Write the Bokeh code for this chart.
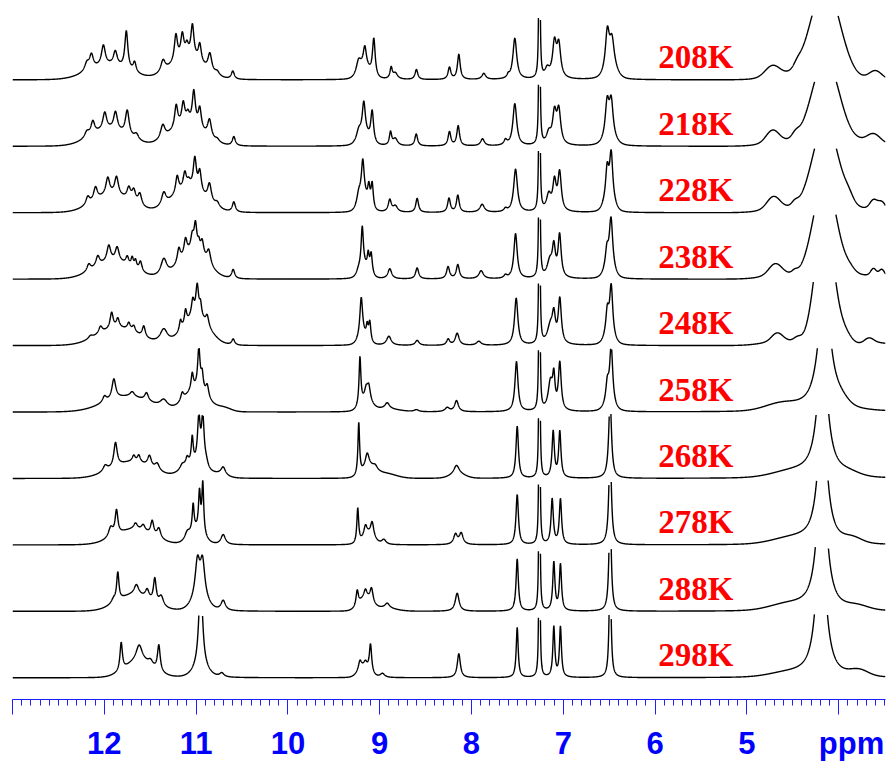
import numpy as np
from bokeh.plotting import figure
from bokeh.models import Range1d, FixedTicker, ColumnDataSource
from bokeh.embed import file_html
from bokeh.resources import INLINE
from bokeh.core.properties import value

# ---------------- data ----------------
TEMPERATURES = ["208K", "218K", "228K", "238K", "248K",
                "258K", "268K", "278K", "288K", "298K"]

# peak tables: (shape, position ppm, height px, width ppm)  L = Lorentzian (HWHM), G = Gaussian (sigma)
PEAKS_208K = [
    ("G", 11.95, 14, 0.22), ("L", 12.19, 8, 0.03), ("L", 12.14, 14, 0.025), ("L", 12.01, 20, 0.025),
    ("L", 11.88, 14, 0.025), ("L", 11.76, 38, 0.02), ("L", 11.67, 10, 0.02),
    ("G", 11.10, 22, 0.17), ("L", 11.36, 12, 0.03), ("L", 11.22, 26, 0.02), ("L", 11.15, 22, 0.02),
    ("L", 11.10, 10, 0.02), ("L", 11.04, 32, 0.02), ("L", 10.96, 18, 0.02), ("L", 10.85, 18, 0.025),
    ("L", 10.77, 4, 0.03), ("L", 10.60, 8, 0.02),
    ("G", 9.17, 12, 0.06), ("L", 9.23, 12, 0.03), ("L", 9.162, 19, 0.02), ("L", 9.064, 38, 0.018),
    ("L", 8.875, 11, 0.015), ("L", 8.83, 6, 0.03), ("L", 8.60, 10, 0.018), ("L", 8.24, 12, 0.018),
    ("L", 8.138, 25, 0.018), ("L", 7.866, 6, 0.025), ("L", 7.60, 3, 0.015), ("L", 7.528, 41, 0.025),
    ("L", 7.26, 500, 0.004), ("L", 7.175, 9, 0.03), ("L", 7.096, 34, 0.025), ("L", 7.049, 32, 0.025),
    ("L", 6.52, 38, 0.025), ("L", 6.47, 28, 0.03), ("G", 6.48, 10, 0.06),
    ("G", 4.147, 94, 0.16), ("G", 4.60, 4, 0.2), ("G", 4.72, 11, 0.08), ("G", 4.45, 4, 0.04),
    ("G", 3.60, 9, 0.07),
]
PEAKS_218K = [
    ("G", 11.95, 16, 0.2), ("L", 12.19, 6, 0.03), ("L", 12.125, 13, 0.025), ("L", 11.995, 17, 0.025),
    ("L", 11.878, 18, 0.025), ("L", 11.75, 25, 0.025), ("L", 11.65, 6, 0.03),
    ("G", 11.10, 22, 0.17), ("L", 11.363, 14, 0.03), ("L", 11.217, 22, 0.02), ("L", 11.14, 20, 0.02),
    ("L", 11.09, 8, 0.02), ("L", 11.025, 33, 0.02), ("L", 10.96, 20, 0.02), ("L", 10.854, 18, 0.025),
    ("L", 10.77, 3, 0.03), ("L", 10.589, 9, 0.02),
    ("G", 9.17, 10, 0.06), ("L", 9.228, 9, 0.03), ("L", 9.173, 32, 0.02), ("L", 9.082, 31, 0.018),
    ("L", 8.882, 13, 0.015), ("L", 8.83, 7, 0.03), ("L", 8.602, 12, 0.018), ("L", 8.24, 14, 0.018),
    ("L", 8.145, 20, 0.018), ("L", 7.88, 7, 0.025), ("L", 7.63, 5, 0.02), ("L", 7.528, 42, 0.025),
    ("L", 7.26, 500, 0.004), ("L", 7.158, 11, 0.03), ("L", 7.096, 30, 0.025), ("L", 7.049, 33, 0.025),
    ("L", 6.522, 36, 0.025), ("L", 6.478, 36, 0.025), ("G", 6.49, 6, 0.06),
    ("G", 4.144, 87, 0.148), ("G", 4.60, 5, 0.2), ("G", 4.72, 12, 0.07), ("G", 4.47, 5, 0.04),
    ("G", 3.70, 5, 0.2), ("G", 3.62, 8, 0.07),
]
PEAKS_228K = [
    ("G", 11.92, 17, 0.2), ("L", 12.18, 8, 0.025), ("L", 12.096, 13, 0.025), ("L", 11.962, 17, 0.025),
    ("L", 11.867, 18, 0.025), ("L", 11.733, 12, 0.025), ("L", 11.679, 12, 0.025), ("L", 11.613, 12, 0.025),
    ("G", 11.08, 24, 0.17), ("L", 11.352, 13, 0.03), ("L", 11.206, 17, 0.02), ("L", 11.123, 15, 0.02),
    ("L", 11.08, 5, 0.02), ("L", 11.014, 30, 0.02), ("L", 10.96, 20, 0.02), ("L", 10.854, 18, 0.025),
    ("L", 10.77, 5, 0.03), ("L", 10.589, 10, 0.02),
    ("G", 9.18, 14, 0.05), ("L", 9.228, 10, 0.025), ("L", 9.184, 36, 0.018), ("L", 9.118, 18, 0.015),
    ("L", 9.082, 25, 0.015), ("L", 8.89, 12, 0.02), ("L", 8.83, 6, 0.03), ("L", 8.592, 14, 0.018),
    ("L", 8.245, 14, 0.018), ("L", 8.149, 17, 0.018), ("L", 7.884, 8, 0.03), ("L", 7.63, 3, 0.02),
    ("L", 7.52, 43, 0.025), ("L", 7.26, 500, 0.004), ("L", 7.158, 16, 0.03), ("L", 7.096, 28, 0.022),
    ("L", 7.04, 38, 0.022), ("L", 6.522, 30, 0.02), ("L", 6.478, 45, 0.02), ("G", 6.50, 14, 0.05),
    ("G", 4.144, 90, 0.14), ("G", 4.60, 5, 0.2), ("G", 4.71, 12, 0.07), ("G", 4.478, 4, 0.035),
    ("G", 3.89, 6, 0.05), ("G", 3.70, 4, 0.2), ("G", 3.62, 9, 0.04), ("G", 3.53, 8, 0.04),
]
PEAKS_238K = [
    ("G", 11.90, 17, 0.21), ("L", 12.169, 7, 0.025), ("L", 12.071, 10, 0.025), ("L", 11.951, 16, 0.025),
    ("L", 11.86, 14, 0.025), ("L", 11.75, 8, 0.02), ("L", 11.696, 9, 0.015), ("L", 11.66, 8, 0.015),
    ("L", 11.606, 10, 0.02),
    ("G", 11.03, 26, 0.15), ("L", 11.352, 17, 0.04), ("L", 11.188, 14, 0.02), ("L", 11.115, 16, 0.02),
    ("L", 11.042, 14, 0.02), ("L", 11.007, 26, 0.018), ("L", 10.97, 8, 0.015), ("L", 10.934, 14, 0.02),
    ("L", 10.862, 14, 0.025), ("L", 10.596, 9, 0.02),
    ("G", 9.16, 10, 0.05), ("L", 9.23, 5, 0.03), ("L", 9.19, 42, 0.015), ("L", 9.125, 15, 0.012),
    ("L", 9.093, 20, 0.015), ("L", 8.89, 10, 0.025), ("L", 8.592, 11, 0.02), ("L", 8.255, 12, 0.02),
    ("L", 8.149, 14, 0.02), ("L", 7.895, 8, 0.03), ("L", 7.63, 3, 0.02), ("L", 7.52, 45, 0.022),
    ("L", 7.26, 500, 0.004), ("L", 7.147, 16, 0.035), ("L", 7.103, 28, 0.02), ("L", 7.04, 42, 0.02),
    ("L", 6.48, 50, 0.022), ("L", 6.525, 18, 0.02), ("G", 6.50, 10, 0.05),
    ("G", 4.15, 100, 0.125), ("G", 4.60, 5, 0.2), ("G", 4.69, 11, 0.07), ("G", 4.48, 3, 0.03),
    ("G", 3.88, 5, 0.06), ("G", 3.70, 4, 0.2), ("G", 3.62, 7, 0.03), ("G", 3.53, 7, 0.03),
]
PEAKS_248K = [
    ("G", 11.85, 17, 0.22), ("L", 12.15, 3, 0.03), ("L", 12.041, 7, 0.025), ("L", 11.92, 16, 0.02),
    ("L", 11.853, 9, 0.02), ("L", 11.733, 7, 0.02), ("L", 11.679, 6, 0.02), ("L", 11.57, 11, 0.02),
    ("G", 11.00, 28, 0.14), ("L", 11.352, 14, 0.05), ("L", 11.17, 10, 0.015), ("L", 11.115, 14, 0.015),
    ("L", 11.036, 16, 0.018), ("L", 10.988, 30, 0.018), ("L", 10.952, 12, 0.015), ("L", 10.879, 10, 0.02),
    ("L", 10.596, 6, 0.02),
    ("G", 9.18, 8, 0.05), ("L", 9.201, 40, 0.018), ("L", 9.136, 12, 0.012), ("L", 9.108, 19, 0.014),
    ("L", 8.90, 9, 0.03), ("L", 8.592, 5, 0.025), ("L", 8.254, 6, 0.02), ("L", 8.156, 12, 0.025),
    ("L", 7.92, 4, 0.03), ("L", 7.513, 47, 0.022), ("L", 7.26, 500, 0.004), ("L", 7.14, 18, 0.04),
    ("L", 7.103, 24, 0.02), ("L", 7.038, 44, 0.02), ("L", 6.478, 50, 0.02), ("L", 6.52, 25, 0.02),
    ("G", 6.50, 8, 0.05),
    ("G", 4.155, 130, 0.10), ("G", 3.93, 10, 0.07), ("G", 4.60, 5, 0.2), ("G", 4.67, 8, 0.06),
    ("G", 4.45, 4, 0.04), ("G", 3.67, 5, 0.05), ("G", 3.60, 3, 0.15),
]
PEAKS_258K = [
    ("G", 11.75, 15, 0.25), ("L", 11.998, 6, 0.025), ("L", 11.896, 20, 0.025), ("L", 11.696, 5, 0.03),
    ("L", 11.54, 8, 0.025), ("L", 11.352, 8, 0.05),
    ("G", 11.00, 22, 0.12), ("L", 11.151, 8, 0.02), ("L", 11.042, 16, 0.015), ("L", 10.97, 40, 0.016),
    ("L", 10.934, 16, 0.015), ("L", 10.879, 12, 0.02), ("G", 10.70, 4, 0.08),
    ("G", 9.15, 10, 0.06), ("L", 9.215, 48, 0.012), ("L", 9.147, 10, 0.02), ("L", 9.119, 14, 0.02),
    ("L", 8.918, 6, 0.03), ("G", 8.95, 3, 0.15), ("L", 8.60, 2, 0.03), ("L", 8.264, 4, 0.03),
    ("L", 8.163, 11, 0.025), ("L", 7.51, 50, 0.02), ("L", 7.26, 500, 0.004), ("L", 7.14, 28, 0.03),
    ("L", 7.103, 29, 0.015), ("L", 7.038, 47, 0.018), ("L", 6.478, 58, 0.02), ("L", 6.52, 20, 0.02),
    ("G", 6.50, 6, 0.05),
    ("L", 4.155, 130, 0.075), ("G", 3.98, 6, 0.08), ("G", 4.62, 7, 0.18),
]
PEAKS_268K = [
    ("G", 11.70, 16, 0.22), ("L", 11.99, 6, 0.03), ("L", 11.878, 24, 0.022), ("L", 11.679, 6, 0.02),
    ("L", 11.624, 7, 0.02), ("L", 11.508, 11, 0.025), ("L", 11.424, 7, 0.03),
    ("G", 11.03, 12, 0.12), ("L", 11.151, 5, 0.03), ("L", 11.097, 8, 0.02), ("L", 11.042, 26, 0.013),
    ("L", 10.97, 46, 0.018), ("L", 10.927, 48, 0.018), ("L", 10.89, 6, 0.025), ("L", 10.705, 8, 0.03),
    ("G", 10.75, 3, 0.08),
    ("G", 9.12, 9, 0.07), ("L", 9.228, 52, 0.011), ("L", 9.136, 14, 0.025), ("L", 9.05, 4, 0.03),
    ("G", 8.95, 5, 0.12), ("L", 8.163, 9, 0.035), ("G", 8.15, 4, 0.08), ("L", 7.502, 52, 0.016),
    ("L", 7.26, 500, 0.004), ("L", 7.11, 46, 0.015), ("L", 7.038, 46, 0.015), ("L", 6.49, 80, 0.018),
    ("L", 4.176, 130, 0.065), ("G", 4.50, 6, 0.22), ("G", 3.90, 4, 0.12),
]
PEAKS_278K = [
    ("G", 11.68, 15, 0.20), ("L", 11.93, 10, 0.03), ("L", 11.867, 24, 0.018), ("L", 11.66, 6, 0.025),
    ("L", 11.576, 6, 0.025), ("L", 11.478, 14, 0.02), ("L", 11.406, 10, 0.025),
    ("G", 11.00, 14, 0.08), ("L", 11.097, 6, 0.03), ("L", 11.032, 26, 0.012), ("L", 10.963, 38, 0.013),
    ("L", 10.927, 50, 0.012), ("L", 10.705, 10, 0.03),
    ("G", 9.12, 10, 0.06), ("L", 9.239, 35, 0.012), ("L", 9.155, 10, 0.02), ("L", 9.082, 14, 0.02),
    ("L", 8.955, 5, 0.03), ("L", 8.174, 10, 0.025), ("L", 8.112, 11, 0.025), ("L", 7.502, 50, 0.016),
    ("L", 7.26, 500, 0.004), ("L", 7.121, 45, 0.015), ("L", 7.031, 45, 0.015), ("L", 6.49, 100, 0.016),
    ("L", 4.177, 130, 0.06), ("G", 4.50, 6, 0.22), ("G", 3.85, 5, 0.10),
]
PEAKS_288K = [
    ("G", 11.68, 16, 0.18), ("L", 11.90, 4, 0.03), ("L", 11.853, 28, 0.015), ("L", 11.65, 10, 0.03),
    ("L", 11.533, 9, 0.025), ("L", 11.45, 24, 0.018), ("L", 11.38, 10, 0.03),
    ("G", 10.96, 12, 0.08), ("L", 10.985, 36, 0.03), ("L", 10.93, 36, 0.03), ("L", 10.705, 10, 0.03),
    ("G", 9.16, 12, 0.07), ("L", 9.245, 15, 0.015), ("L", 9.155, 8, 0.02), ("L", 9.089, 14, 0.02),
    ("L", 8.918, 5, 0.03), ("G", 8.95, 3, 0.12), ("L", 8.156, 18, 0.025), ("L", 7.502, 52, 0.015),
    ("L", 7.26, 500, 0.004), ("L", 7.103, 48, 0.014), ("L", 7.031, 46, 0.014), ("L", 6.49, 110, 0.014),
    ("L", 4.183, 150, 0.06), ("G", 4.55, 6, 0.20), ("G", 3.80, 4, 0.12),
]
PEAKS_298K = [
    ("G", 11.62, 16, 0.15), ("L", 11.816, 28, 0.016), ("L", 11.62, 16, 0.04), ("L", 11.497, 5, 0.03),
    ("L", 11.406, 26, 0.018),
    ("L", 10.95, 90, 0.025), ("G", 10.95, 8, 0.08), ("L", 10.72, 4, 0.03),
    ("G", 9.17, 10, 0.06), ("L", 9.215, 9, 0.02), ("L", 9.155, 5, 0.02), ("L", 9.10, 28, 0.015),
    ("L", 8.97, 4, 0.03), ("L", 8.138, 24, 0.02), ("L", 7.502, 50, 0.013), ("L", 7.26, 500, 0.004),
    ("L", 7.103, 50, 0.013), ("L", 7.031, 50, 0.013), ("L", 6.49, 120, 0.012),
    ("L", 4.193, 150, 0.06), ("G", 4.55, 4, 0.20), ("G", 3.78, 6, 0.10),
]
PEAK_TABLES = [PEAKS_208K, PEAKS_218K, PEAKS_228K, PEAKS_238K, PEAKS_248K,
               PEAKS_258K, PEAKS_268K, PEAKS_278K, PEAKS_288K, PEAKS_298K]

MAJOR_TICKS = [4, 5, 6, 7, 8, 9, 10, 11, 12, 13]
AXIS_UNIT = "ppm"
TICK_LABELS = {4: "\u00a0\u00a0\u00a0" + AXIS_UNIT, 5: "5", 6: "6", 7: "7", 8: "8", 9: "9",
               10: "10", 11: "11", 12: "12", 13: ""}

# ---------------- layout / style ----------------
PPM_LEFT, PPM_RIGHT = 13.0, 3.49
FRAME_W, FRAME_H = 873, 691
CLIP = 64.5          # vertical cut of every trace (px above its baseline)
SPACING = 66.44      # px between stacked baselines
BASE0 = 21.7         # px from axis line to lowest baseline

grid = np.linspace(PPM_RIGHT, PPM_LEFT, 5600)


def trace(peaks):
    y = np.zeros_like(grid)
    for kind, c, h, w in peaks:
        if kind == "L":
            y += h / (1.0 + ((grid - c) / w) ** 2)
        else:
            y += h * np.exp(-0.5 * ((grid - c) / w) ** 2)
    y[y > CLIP] = np.nan
    return y


p = figure(frame_width=FRAME_W, frame_height=FRAME_H,
           x_range=Range1d(PPM_LEFT, PPM_RIGHT), y_range=Range1d(0, FRAME_H),
           output_backend="svg", toolbar_location=None, y_axis_location=None,
           min_border_left=12, min_border_right=4, min_border_top=8, min_border_bottom=60,
           background_fill_color="white", border_fill_color="white", outline_line_color=None)
p.grid.visible = False

n = len(TEMPERATURES)
for i, peaks in enumerate(PEAK_TABLES):
    base = BASE0 + SPACING * (n - 1 - i)
    p.line(grid, trace(peaks) + base, line_color="black", line_width=1.4)

label_src = ColumnDataSource(dict(
    x=[5.555] * n,
    y=[BASE0 + SPACING * (n - 1 - i) + 22.5 for i in range(n)],
    t=TEMPERATURES))
p.text(x="x", y="y", text="t", source=label_src, text_align="center", text_baseline="alphabetic",
       text_color="#ff0000", text_font=value("Liberation Serif"), text_font_style="bold",
       text_font_size="33px")

minor = [round(v / 10.0, 1) for v in range(35, 131)]
ax = p.xaxis[0]
ax.ticker = FixedTicker(ticks=MAJOR_TICKS, minor_ticks=minor)
ax.major_label_overrides = TICK_LABELS
ax.axis_line_color = "#1f1fff"
ax.major_tick_line_color = "#1f1fff"
ax.minor_tick_line_color = "#1f1fff"
ax.major_tick_out = 15
ax.major_tick_in = 0
ax.minor_tick_out = 6
ax.minor_tick_in = 0
ax.major_label_standoff = 11
ax.major_label_text_font = "Liberation Sans"
ax.major_label_text_font_style = "bold"
ax.major_label_text_font_size = "31px"
ax.major_label_text_color = "#0000ff"

open("out.html", "w").write(file_html(p, INLINE))
